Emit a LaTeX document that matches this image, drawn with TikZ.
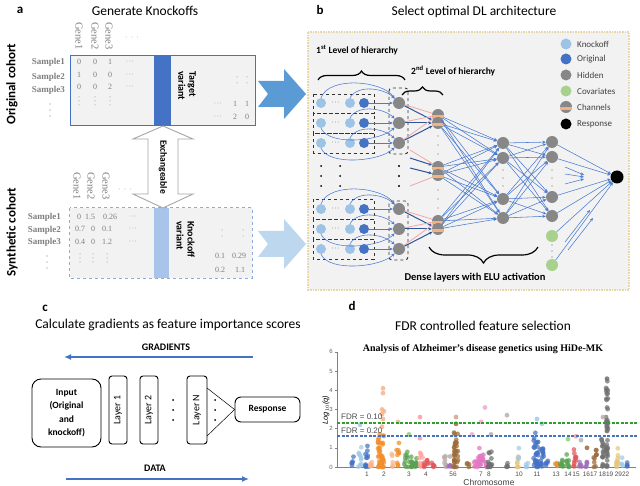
\documentclass[tikz,border=0pt]{standalone}
\usepackage{fontspec}
\setmainfont{Carlito}
\newfontfamily\serif{Liberation Serif}
\newfontfamily\arial{Liberation Sans}
\usetikzlibrary{arrows.meta,decorations.pathreplacing,calc}
\newcommand{\fsz}[2]{\fontsize{#1}{#2}\selectfont}
\definecolor{dblue}{HTML}{4472C4}
\definecolor{lblue}{HTML}{9DC3E6}
\definecolor{hgray}{HTML}{878787}
\definecolor{chorange}{HTML}{F4B183}
\definecolor{cgreen}{HTML}{A9D18E}
\definecolor{eblue}{HTML}{4A7BD0}
\definecolor{pinkl}{HTML}{F4A6A6}
\definecolor{darkb}{HTML}{2F5597}
\definecolor{boxgray}{HTML}{F2F2F2}
\definecolor{tanb}{HTML}{E8D7A8}
\definecolor{numgray}{HTML}{7F7F7F}
\definecolor{arrgray}{HTML}{A6A6A6}
\definecolor{chevtop}{HTML}{5B9BD5}
\definecolor{chevbot}{HTML}{BDD7EE}
\definecolor{kbar}{HTML}{A9C4EB}
\definecolor{dashb}{HTML}{8FAADC}
\definecolor{sdblue}{HTML}{4472C4}
\definecolor{slblue}{HTML}{A0CBE8}
\definecolor{sorange}{HTML}{F28E2B}
\definecolor{slorange}{HTML}{F9B38A}
\definecolor{sgreen}{HTML}{59A14F}
\definecolor{slgreen}{HTML}{8CD17D}
\definecolor{sred}{HTML}{E15759}
\definecolor{slred}{HTML}{FF9D9A}
\definecolor{spurple}{HTML}{9E6FB8}
\definecolor{sbrown}{HTML}{9C6B3A}
\definecolor{slbrown}{HTML}{C9A58A}
\definecolor{spink}{HTML}{E377C2}
\definecolor{slpink}{HTML}{F1A7D3}
\definecolor{sgray}{HTML}{6F6F6F}
\definecolor{slgray}{HTML}{BAB0AC}
\definecolor{stan}{HTML}{E8C77A}
\definecolor{fdrgreen}{HTML}{2CA02C}
\begin{document}
\begin{tikzpicture}[x=1pt,y=-1pt,
  ttl/.style={font=\fsz{13.5}{15}, inner sep=0},
  lett/.style={font=\bfseries\fsz{13}{15}, inner sep=0},
  cohort/.style={font=\bfseries\fsz{13}{15}, rotate=90, inner sep=0},
  gene/.style={font=\serif\fsz{10.5}{11}, text=numgray, rotate=-90, anchor=west, inner sep=0},
  num/.style={font=\serif\fsz{8}{9}, text=numgray, inner sep=0},
  samp/.style={font=\serif\bfseries\fsz{9}{10}, text=numgray, anchor=east, inner sep=0},
  vlab/.style={font=\bfseries\fsz{10}{11}, rotate=-90, align=left, anchor=west, inner sep=0},
  kn/.style={circle, fill=lblue, minimum size=10, inner sep=0},
  orig/.style={circle, fill=dblue, minimum size=10, inner sep=0},
  hid/.style={circle, fill=hgray, minimum size=12, inner sep=0},
  chan/.style={hid, path picture={\fill[chorange] (path picture bounding box.west) rectangle ([yshift=-3.5pt]path picture bounding box.east);}},
  cov/.style={circle, fill=cgreen, minimum size=12, inner sep=0},
  rsp/.style={circle, fill=black, minimum size=13, inner sep=0},
  edge/.style={draw=eblue, line width=0.55pt, -{Stealth[length=3.5pt,width=3pt]}},
  pedge/.style={draw=pinkl, line width=0.8pt},
  dedge/.style={draw=darkb, line width=1pt, -{Stealth[length=3.5pt,width=3pt]}},
  grp/.style={draw=black!80, dashed, line width=0.9pt},
  leg/.style={font=\fsz{9}{10}, text=black!75, anchor=west, inner sep=0},
  hier/.style={font=\bfseries\fsz{9.5}{11}, anchor=west, inner sep=0},
  brc/.style={decorate, line width=1.2pt},
  cbox/.style={draw=black, line width=0.9pt},
  lbox/.style={cbox, rounded corners=3, minimum width=68, minimum height=18, rotate=90, font=\fsz{10}{11}, inner sep=0},
  bigarr/.style={draw=dblue, line width=1.8pt, -{Latex[length=7pt,width=6pt]}},
  tick/.style={font=\arial\fsz{6}{7}, text=black!60, anchor=east, inner sep=0},
  chr/.style={font=\arial\fsz{6.5}{7}, text=black!70, inner sep=0},
  fdr/.style={font=\arial\fsz{8}{9}, text=black!70, anchor=west, inner sep=0}
]
\fill[white] (0,0) rectangle (640,486);
\useasboundingbox (0,0) rectangle (640,486);

%================ Panel a ================
\node[lett] (la) at (20,10) {a};
\node[ttl] (ta) at (145,11) {Generate Knockoffs};
\node[cohort] (oc) at (12,84) {Original cohort};
\node[cohort] (sc) at (12,232) {Synthetic cohort};

% original box
\node[fill=boxgray, minimum width=184, minimum height=69, inner sep=0] (ob) at (163,90.5) {};
\fill[dblue] (154,56) rectangle (171,125);
\draw[dblue, line width=1.2pt] (ob.north west) rectangle (ob.south east);
\node[vlab] (tv) at (187,71) {Target\\variant};
\foreach \x/\g in {79/Gene1,95/Gene2,109/Gene3} \node[gene] at (\x,22) {\g};
\node[num] at (132,38) {$\cdot\,\cdot\,\cdot$};
\node[samp] at (65,62) {Sample1};
\node[samp] at (65,77) {Sample2};
\node[samp] at (65,90) {Sample3};
\foreach \yy in {104,110,116} \fill[numgray] (50,\yy) circle (0.7);
\foreach \r/\a/\b/\c in {62/0/0/1, 75/1/0/0, 87/0/0/2} {
  \node[num] at (79,\r) {\a}; \node[num] at (95,\r) {\b}; \node[num] at (110,\r) {\c};
  \node[num] at (130,\r) {$\cdot\!\cdot\!\cdot$};}
\foreach \x in {79,95,110} \foreach \yy in {97,101,105} \fill[numgray] (\x,\yy) circle (0.5);
\foreach \x in {237,247} \foreach \yy in {77,83} \fill[numgray] (\x,\yy) circle (0.5);
\node[num] at (218,104) {$\cdot\!\cdot\!\cdot$}; \node[num] at (235,104) {1}; \node[num] at (247,104) {1};
\node[num] at (218,117) {$\cdot\!\cdot\!\cdot$}; \node[num] at (235,117) {2}; \node[num] at (247,117) {0};

% synthetic box
\node[fill=boxgray, minimum width=182, minimum height=70, inner sep=0] (sb) at (161,243) {};
\fill[kbar] (154,208) rectangle (169,278);
\draw[dashb, line width=1.1pt, dashed] (sb.north west) rectangle (sb.south east);
\node[vlab] (kv) at (185.5,221) {Knockoff\\variant};
\foreach \x/\g in {77/Gene1,91/Gene2,106/Gene3} \node[gene] at (\x,172) {\g};
\node[num] at (125,190) {$\cdot\,\cdot\,\cdot$};
\node[samp] at (61,217) {Sample1};
\node[samp] at (61,230) {Sample2};
\node[samp] at (61,242) {Sample3};
\foreach \yy in {256,262,268} \fill[numgray] (47,\yy) circle (0.7);
\node[num] at (79,217) {0}; \node[num] at (90,217) {1.5}; \node[num] at (110,217) {0.26}; \node[num] at (133,217) {$\cdot\!\cdot\!\cdot$};
\node[num] at (80,229) {0.7}; \node[num] at (93,229) {0}; \node[num] at (107,229) {0.1}; \node[num] at (133,229) {$\cdot\!\cdot\!\cdot$};
\node[num] at (80,242) {0.4}; \node[num] at (93,242) {0}; \node[num] at (107,242) {1.2}; \node[num] at (133,242) {$\cdot\!\cdot\!\cdot$};
\foreach \x in {80,93,107} \foreach \yy in {254,258,262} \fill[numgray] (\x,\yy) circle (0.5);
\foreach \x in {222,243} \foreach \yy in {230,236} \fill[numgray] (\x,\yy) circle (0.5);
\node[num] at (220,256) {0.1}; \node[num] at (239,256) {0.29};
\node[num] at (220,270) {0.2}; \node[num] at (240,270) {1.1};

% exchangeable arrow
\draw[arrgray, fill=white, line width=0.9pt] (163,126) -- (193,139) -- (178,139) -- (178,194) -- (193,194) -- (163,208) -- (133,194) -- (148,194) -- (148,139) -- (133,139) -- cycle;
\node[font=\bfseries\fsz{9.5}{11}, rotate=-90, inner sep=0] (ex) at (163,167) {Exchangeable};

% chevron arrows
\fill[chevtop] (258,81) -- (284,81) -- (284,69) -- (306,94) -- (284,119) -- (284,107) -- (258,107) -- (268,94) -- cycle;
\fill[chevbot] (258,231) -- (284,231) -- (284,219) -- (306,244) -- (284,269) -- (284,257) -- (258,257) -- (268,244) -- cycle;

%================ Panel b ================
\node[lett] (lb) at (320,10) {b};
\node[ttl] (tb) at (474,12) {Select optimal DL architecture};
\draw[fill=boxgray, draw=tanb, line width=1.6pt, densely dotted] (308,32) rectangle (629,290);

\node[hier] at (316,50) {1\textsuperscript{st} Level of hierarchy};
\node[hier] at (411,71) {2\textsuperscript{nd} Level of hierarchy};
\draw[brc, decoration={brace, amplitude=9pt}] (318,80) -- (405,80);
\draw[brc, decoration={brace, amplitude=8pt}] (402,95) -- (443,95);

% legend
\node[kn, minimum size=11] (g1l) at (566,44) {}; \node[leg] at (577,44) {Knockoff};
\node[orig, minimum size=11] (g2l) at (566,59) {}; \node[leg] at (577,59) {Original};
\node[hid, minimum size=11] (g3l) at (566,75) {}; \node[leg] at (577,75) {Hidden};
\node[cov, minimum size=11] (g4l) at (566,91) {}; \node[leg] at (577,91) {Covariates};
\node[chan, minimum size=12] (g5l) at (566,107) {}; \node[leg] at (577,107) {Channels};
\node[rsp, minimum size=11] (g6l) at (566,124) {}; \node[leg] at (577,124) {Response};

% input groups
\foreach \ya/\yb in {94/113,113/133.5,133.5/153,199/219,219/239,239/259} \draw[grp] (313,\ya) rectangle (374,\yb);
\draw[grp, rounded corners=3] (389,88) rectangle (408,154);
\draw[grp, rounded corners=3] (389,201) rectangle (408,260);

\foreach \i/\r in {1/103,2/123,3/143,4/209,5/229,6/249} {
  \node[kn] (k\i a) at (321,\r) {};
  \node[kn] (k\i b) at (350,\r) {};
  \node[orig] (o\i) at (364,\r) {};
  \node[hid] (h\i) at (399,\r) {};
  \node[font=\fsz{8}{8}, text=black!70, inner sep=0] at (335.5,\r) {$\cdot\!\cdot\!\cdot$};
  \draw[edge] (o\i) -- (h\i);
}
% arcs
\foreach \i in {1,4} {
  \draw[edge] (k\i a.north) .. controls +(8,-22) and +(-12,-18) .. (h\i.north west);
  \draw[edge] (k\i b.north) .. controls +(8,-14) and +(-10,-10) .. (h\i.north west);
}
\foreach \i in {2,3,5,6} {
  \draw[edge] (k\i a.south) .. controls +(8,18) and +(-14,14) .. (h\i.south west);
  \draw[edge] (k\i b.north) .. controls +(8,-14) and +(-10,-10) .. (h\i.north west);
}
\foreach \x in {321,340} \foreach \yy in {166,176,186} \fill (\x,\yy) circle (1);
\foreach \yy in {166,176,186} \fill (399,\yy) circle (1.1);

% channels
\node[chan] (c1a) at (438,115) {};
\node[chan] (c1b) at (438,123) {};
\node[chan] (c2a) at (438,167) {};
\node[chan] (c2b) at (438,175) {};
\node[chan] (c3a) at (438,221) {};
\node[chan] (c3b) at (438,229) {};
\foreach \yy in {136,145,154,190,199,208} \fill[black!60] (438,\yy) circle (0.7);

\coordinate (m1) at (410,150);
\coordinate (m2) at (410,158);
\coordinate (m3) at (410,168);
\coordinate (m4) at (410,186);

% dense layers
\node[hid] (l11) at (503,143) {};
\node[hid] (l12) at (503,158) {};
\node[hid] (l13) at (503,199) {};
\node[hid] (l14) at (503,218) {};
\node[hid] (l21) at (552,142) {};
\node[hid] (l22) at (552,157) {};
\node[hid] (l23) at (552,197) {};
\node[hid] (l24) at (552,216) {};
\node[cov] (cv1) at (552,236) {};
\node[cov] (cv2) at (552,265) {};
\node[rsp] (rs) at (617,177) {};
\foreach \yy in {170,178,186} {\fill[black!60] (503,\yy) circle (0.7); \fill[black!60] (552,\yy) circle (0.7);}
\foreach \yy in {245,251,257} \fill[black!60] (552,\yy) circle (0.7);

\foreach \h in {h1,h2,h3} {\draw[pedge] (\h) -- (c1a); \draw[dedge] (\h) -- (c1b);}
\foreach \h in {h4,h5,h6} {\draw[pedge] (\h) -- (c3a); \draw[dedge] (\h) -- (c3b);}
\draw[pedge] (m1) -- (c2a); \draw[dedge] (m2) -- (c2a);
\draw[dedge] (m3) -- (c2b); \draw[pedge] (m4) -- (c2b);

\foreach \c in {c1a,c1b,c2a,c2b,c3a,c3b} \foreach \l in {l11,l12,l13,l14} \draw[edge] (\c) -- (\l);
\foreach \a in {l11,l12,l13,l14} \foreach \b in {l21,l22,l23,l24} \draw[edge] (\a) -- (\b);
\foreach \a in {l21,l22,l23,l24,cv1,cv2} \draw[edge] (\a) -- (rs);
% floating arrows
\coordinate (f1s) at (565,167); \coordinate (f1e) at (584,175);
\coordinate (f2s) at (565,174); \coordinate (f2e) at (584,177);
\coordinate (f3s) at (565,184); \coordinate (f3e) at (584,179);
\coordinate (f4s) at (565,242); \coordinate (f4e) at (590,210);
\coordinate (f5s) at (568,250); \coordinate (f5e) at (593,218);
\foreach \i in {1,...,5} \draw[edge] (f\i s) -- (f\i e);

\draw[brc, decoration={brace, amplitude=16pt}] (538,247) -- (429,247);
\node[font=\bfseries\fsz{10.5}{12}, inner sep=0] (dl) at (475,278) {Dense layers with ELU activation};

%================ Panel c ================
\node[lett] (lc) at (45,308) {c};
\node[ttl] (tc) at (168,325) {Calculate gradients as feature importance scores};
\node[font=\bfseries\fsz{10}{11}, inner sep=0] (gr) at (166,347) {GRADIENTS};
\coordinate (gs) at (253,357); \coordinate (ge) at (64,357);
\draw[bigarr] (gs) -- (ge);
\node[cbox, rounded corners=9, minimum width=69, minimum height=68, align=center, font=\bfseries\fsz{9.5}{13.5}, inner sep=0] (inp) at (66.5,413) {Input\\(Original\\and\\knockoff)};
\node[lbox] (ly1) at (118,410) {Layer 1};
\node[lbox] (ly2) at (149,410) {Layer 2};
\node[lbox, minimum height=20] (lyN) at (197,410) {Layer N};
\foreach \yy in {400,410,420} {\fill (173,\yy) circle (1); \fill (215,\yy) circle (1);}
\node[cbox, rounded corners=6, minimum width=65, minimum height=25, font=\bfseries\fsz{9.5}{11}, inner sep=0] (resp) at (267.5,409.5) {Response};
\coordinate (nt) at (207,388); \coordinate (nb) at (207,436);
\draw[line width=0.5pt] (nt) -- (resp.west) -- (nb);
\node[font=\bfseries\fsz{10}{11}, inner sep=0] (dt) at (155,468) {DATA};
\coordinate (ds) at (66,479); \coordinate (de) at (249,479);
\draw[bigarr] (ds) -- (de);

%================ Panel d ================
\node[lett] (ld) at (352,306) {d};
\node[ttl] (td) at (483,326) {FDR controlled feature selection};
\node[font=\serif\bfseries\fsz{10}{12}, inner sep=0] (st) at (483,349) {Analysis of Alzheimer’s disease genetics using HiDe-MK};
\draw[black!50, line width=0.5pt] (337,352) -- (337,467) -- (636,467);
\foreach \v in {0,...,6} {
  \draw[black!50, line width=0.5pt] (335,{467-19.2*\v}) -- (337,{467-19.2*\v});
  \node[tick] at (333,{467-19.2*\v}) {\v};
}
\node[font=\arial\fsz{7.5}{9}, rotate=90, inner sep=0] (yl) at (326,410) {\textit{Log}$_{10}$\textit{(q)}};

\pgfmathsetseed{11}
\foreach \xc/\w/\n/\mx/\p/\col in {
 353/3/5/0.6/2/sdblue, 360/4/12/1.2/1.6/slblue, 367/4/12/1.6/1.6/sdblue, 371/3/6/0.5/1.5/slorange,
 381/6/45/1.75/1.6/sorange, 392/3/5/1.0/1.5/slorange, 398/3/9/1.3/1.5/sorange,
 406/4/9/0.85/1.6/sgreen, 411/4/10/0.6/1.5/sgreen, 416/3/7/0.5/1.5/sgreen,
 421/4/8/1.0/1.6/slred, 426/4/8/0.45/1.3/sred, 433/3/5/0.25/1.3/sred,
 445/3/9/0.8/1.3/slgray, 450/3/5/0.25/1.3/spurple, 456/4/32/1.8/1.3/sbrown, 468/3/4/0.2/1.3/sbrown,
 474/3/4/0.3/1.3/spink, 478/4/10/1.0/1.5/spink, 482/4/10/1.0/1.5/spink, 486/3/6/0.4/1.3/spink,
 490/4/16/0.8/1.3/sgray, 507/3/4/0.2/1.3/sgray,
 518/3/8/0.6/1.3/stan, 519/2/3/1.0/1.3/slblue, 527/3/4/0.25/1.3/slblue,
 536/5/28/1.8/1.4/sdblue, 542/4/15/1.0/1.3/sdblue, 547/3/5/0.5/1.3/sdblue,
 556/3/6/0.4/1.3/sorange, 562/4/8/0.4/1.3/sgreen, 568/3/8/0.75/1.3/sgreen,
 575/3/10/1.0/1.3/sred, 580/3/5/0.3/1.3/spurple, 587/3/5/0.4/1.3/spurple,
 595/3/10/0.95/1.3/sbrown, 603/3/15/1.5/1.2/sgray, 607/2/40/4.5/1/sgray,
 617/3/10/1.05/1.3/stan, 622/2/4/0.6/1.3/slblue, 627/2/4/0.35/1.3/sdblue} {
  \foreach \k in {1,...,\n} {
    \pgfmathsetmacro\px{\xc+(rnd-0.5)*\w}
    \pgfmathsetmacro\py{467-19.2*\mx*pow(rnd,\p)}
    \fill[\col, opacity=0.72] (\px,\py) circle (2.4);
  }
}
\foreach \xc/\v/\col in {360/2.2/slblue, 383/4.1/slorange, 383/3.85/slorange, 382/3.0/slorange, 384/2.9/slorange,
 382/2.75/slorange, 383/2.5/slorange, 382/2.1/slorange, 398/2.35/slorange, 409/1.7/slgreen,
 420/2.6/slred, 420/1.5/slred, 450/0.55/slgray, 456/2.6/slbrown, 456/2.25/sbrown,
 472/1.7/slpink, 481/2.35/slpink, 485/3.1/slpink, 491/1.7/slgray, 507/2.7/slgray,
 537/2.5/slblue, 542/2.25/slblue, 568/1.45/slgreen, 576/1.6/slred, 581/1.4/slgray,
 587/1.0/sbrown, 603/2.6/slgray, 607/4.6/sgray} \fill[\col, opacity=0.85] (\xc,{467-19.2*\v}) circle (2.4);

\coordinate (fg0) at (337,423); \coordinate (fg1) at (638,423);
\coordinate (fb0) at (337,436); \coordinate (fb1) at (638,436);
\draw[fdrgreen, line width=1.2pt, dash pattern=on 3pt off 1.5pt] (fg0) -- (fg1);
\draw[dblue, line width=1.2pt, dash pattern=on 3pt off 1.5pt] (fb0) -- (fb1);
\node[fdr] (f10) at (341,417) {FDR = 0.10};
\node[fdr] (f20) at (341,431) {FDR = 0.20};

\foreach \x/\t in {367/1,384/2,409/3,426/4,453/56,481/7,489/8,519/10,537/11,556/13,568/14,576/15,590/1617,606/1819,622/2922}
  \node[chr] at (\x,474) {\t};
\node[font=\arial\fsz{8.5}{10}, text=black!75, inner sep=0] (cx) at (489,482) {Chromosome};
\end{tikzpicture}
\end{document}
